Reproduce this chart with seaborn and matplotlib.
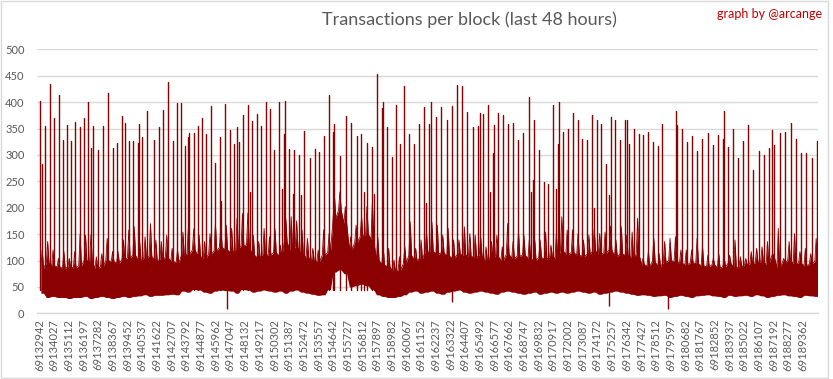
import numpy as np
import pandas as pd
import matplotlib
matplotlib.use("Agg")
import matplotlib.pyplot as plt
from matplotlib.patches import Rectangle
import seaborn as sns

# ---------------- data ----------------
first_block = 69132942
label_step = 1085
n_labels = 53
bin_size = 400  # blocks per 20-minute bin

# per-bin jagged peak of the dense band
band_peak = [120,136,120,104,117,104,117,150,148,148,107,113,142,117,117,139,158,164,136,145,
             170,139,136,148,123,120,154,161,160,148,136,151,170,165,167,161,180,189,190,148,
             136,161,145,161,129,180,183,175,158,
             142,123,120,158,151,221,230,202,145,167,183,202,211,145,126,123,101,107,126,173,
             123,139,154,173,167,148,161,139,139,164,151,148,145,126,136,148,126,170,136,154,
             148,139,139,139,154,129,151,
             183,158,158,151,139,148,160,151,154,165,139,164,148,154,180,104,117,142,113,136,
             142,145,120,120,120,142,126,110,104,113,107,110,139,107,104,117,123,126,136,113,
             161,104,136,151,117,123,113,142]
# per-bin solid top of the band
band_top = [85,95,90,88,85,88,86,90,100,98,85,88,
            100,98,95,102,105,110,100,104,108,100,102,106,98,96,
            110,112,120,108,104,112,118,125,120,115,122,128,130,110,105,112,110,115,108,135,120,125,112,
            105,100,98,110,115,
            180,195,170,
            120,135,145,150,140,
            100,92,88,80,82,95,
            110,100,104,115,118,112,115,108,105,112,110,108,106,110,100,105,108,100,112,104,108,110,104,100,106,102,108,104,
            118,112,115,110,108,112,118,112,114,120,108,112,110,106,112,
            92,90,98,88,96,100,98,95,92,96,94,90,88,92,86,88,95,86,88,92,94,96,98,92,108,86,96,100,94,95,90,94,98]
# per-bin bottom of the band
band_low = [38,30,32,30,30,28,30,30,32,28,30,32,30,28,30,32,30,32,33,35,32,34,34,35,36,35,
            42,40,45,44,40,38,42,44,43,42,38,45,44,40,42,44,42,40,42,38,42,44,40,
            38,36,34,35,45,
            78,82,75,
            50,52,55,52,45,
            35,32,30,30,32,35,
            40,42,38,40,42,38,36,40,42,44,40,38,40,42,40,38,36,40,42,40,38,36,38,40,36,38,40,38,
            40,38,40,42,40,38,40,36,38,40,42,40,38,36,34,
            35,34,32,33,34,30,32,34,32,30,33,34,35,33,32,30,34,32,33,34,32,35,33,30,32,34,35,33,32,30,34,33,32]

# tall isolated spikes: block offset from first block, transactions
spike_offset = [20,170,392,761,1057,1426,1722,2017,2313,2609,2978,3274,3569,3791,3939,4308,4678,5048,5417,5713,
                6082,6304,6599,6895,7264,7338,7560,7930,8447,8816,9112,9481,9851,10146,10442,10738,10959,11033,11403,11699,
                11994,12290,12659,12955,13324,13398,13694,14063,14359,14580,14728,15024,15393,15541,15689,16059,16354,16724,17019,17315,
                17684,17906,18054,18128,18423,18719,18793,19162,19310,19532,19975,20345,20640,21010,21379,21675,21749,22192,22635,23005,
                23448,23744,23966,24188,24557,24705,24926,25296,25370,25666,26035,26331,26626,26922,27291,27661,28030,28400,28547,28769,
                28917,29286,29656,30099,30469,30838,31208,31577,32021,32390,32538,32760,33129,33277,33499,33573,33868,34238,34607,34977,
                35346,35716,36159,36307,36455,36529,36898,37268,37564,37933,38155,38303,38377,38672,39042,39411,39781,40076,40446,40815,
                40963,41185,41480,41850,42071,42219,42515,42885,43254,43402,43550,43919,44289,44585,44954,45324,45693,45989,47023,47097,
                47467,47836,48206,48575,48945,49388,49758,50127,50497,50571,50867,51236,51606,51976,52345,52715,53158,53528,53897,54117,
                54265,54709,55078,55521,55891,56260,56630,57073,57443]
spike_value = [402,283,354,434,369,413,329,356,327,362,352,369,400,313,354,310,354,417,313,322,
               373,360,327,327,322,358,334,383,329,352,385,439,327,398,398,317,334,341,341,354,
               369,339,392,284,334,212,396,347,320,352,324,375,394,230,364,377,354,401,386,309,
               401,235,339,403,311,226,309,300,224,345,294,311,305,335,413,343,358,298,373,361,
               335,339,230,322,315,226,453,388,400,352,296,394,320,430,339,320,358,390,209,358,
               401,371,390,366,392,432,430,381,352,354,379,377,394,229,303,356,379,375,358,361,
               328,341,410,230,252,366,309,248,245,394,236,320,400,343,349,379,366,330,328,375,
               199,366,358,282,224,371,366,328,366,366,320,349,339,337,343,324,317,358,383,356,
               349,324,335,307,331,341,319,337,331,383,315,349,294,326,356,271,307,300,313,347,
               319,341,343,360,331,303,303,294,326]

# isolated downward dips
dip_offset = [13893, 30521, 42123, 46483]
dip_value = [8, 22, 14, 8]

# ---------------- build tables ----------------
n_bins = len(band_peak)
bx, bhi, blo = [], [], []
for k in range(n_bins):
    c = k * bin_size
    for dx, hv in ((100, band_top[k]), (200, band_peak[k]), (300, band_top[k])):
        bx.append(c + dx)
        bhi.append(hv)
        blo.append(band_low[k])
band = pd.DataFrame({"offset": bx, "hi": bhi, "lo": blo})

rows = []
for i, (o, v) in enumerate(zip(spike_offset, spike_value)):
    rows.append((i, o, 45))
    rows.append((i, o, v))
spikes = pd.DataFrame(rows, columns=["sid", "offset", "tx"])

# ---------------- plot ----------------
sns.set_theme(style="white")
plt.rcParams["font.family"] = ["Lato", "DejaVu Sans"]

red = "#8B0000"
grey_txt = "#595959"
grid_c = "#D9D9D9"

fig = plt.figure(figsize=(8.33, 3.79), dpi=100)
ax = fig.add_axes([37 / 833, 1 - 313.3 / 379, (817.5 - 37) / 833, (313.3 - 49.3) / 379])

ax.fill_between(band["offset"], band["lo"], band["hi"], color=red, lw=0, zorder=2)
sns.lineplot(data=band, x="offset", y="hi", color=red, lw=0.6, ax=ax, zorder=3)
sns.lineplot(data=spikes, x="offset", y="tx", units="sid", estimator=None,
             color=red, lw=1.0, ax=ax, zorder=3, legend=False)
ax.vlines(dip_offset, dip_value, 50, color=red, lw=1.0, zorder=3)

ax.set_xlim(-185, 57500)
ax.set_ylim(0, 500)
ax.set_yticks(np.arange(0, 501, 50))
ax.set_yticklabels([str(v) for v in range(0, 501, 50)], fontsize=8, color=grey_txt)
ticks = [i * label_step for i in range(n_labels)]
ax.set_xticks(ticks)
ax.set_xticklabels([str(first_block + t) for t in ticks], rotation=90, fontsize=8, color=grey_txt)
ax.tick_params(axis="both", length=0)
ax.tick_params(axis="y", pad=9)
ax.tick_params(axis="x", pad=4)
ax.set_xlabel("")
ax.set_ylabel("")
ax.grid(axis="y", color=grid_c, lw=1)
ax.set_axisbelow(True)
for s in ["top", "right", "left"]:
    ax.spines[s].set_visible(False)
ax.spines["bottom"].set_color(grid_c)
ax.spines["bottom"].set_linewidth(1)

fig.text(469 / 833, 1 - 20 / 379, "Transactions per block (last 48 hours)", ha="center", va="center",
         fontsize=13, color=grey_txt)
fig.text(822 / 833, 1 - 14 / 379, "graph by @arcange", ha="right", va="center",
         fontsize=9, color="#C00000")
fig.patches.append(Rectangle((1 / 833, 1 / 379), 827 / 833, 377 / 379, transform=fig.transFigure,
                             fill=False, edgecolor=grid_c, lw=1))

fig.savefig("out.png", dpi=100)
